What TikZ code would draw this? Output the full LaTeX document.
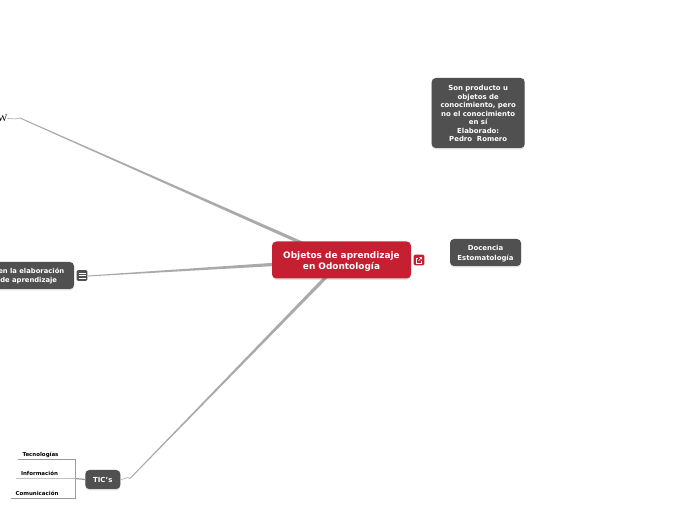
\documentclass[tikz,border=0pt]{standalone}
\usepackage{fontspec}
\usetikzlibrary{calc}
\setmainfont{DejaVu Sans}
\newfontfamily\serifw{Liberation Serif}
\newcommand{\taperline}[2]{\fill[taper] ($(#1)!1.25pt!90:(#2)$) -- ($(#2)!0.35pt!-90:(#1)$) -- ($(#2)!0.35pt!90:(#1)$) -- ($(#1)!1.25pt!-90:(#2)$) -- cycle;}
\begin{document}
\begin{tikzpicture}[x=0.75pt,y=-0.75pt,
  darkbox/.style={fill=boxgrey,rounded corners=3pt,inner sep=0pt,
     preaction={fill=black,opacity=0.13,transform canvas={yshift=-1pt}}},
  mainbox/.style={fill=mainred,rounded corners=3.2pt,inner sep=0pt,
     preaction={fill=black,opacity=0.10,transform canvas={yshift=-1pt}}},
  darktext/.style={text=white,font=\bfseries\fontsize{5.2}{6.4}\selectfont,align=center,inner sep=0pt},
  maintext/.style={text=white,font=\bfseries\fontsize{6.7}{8.3}\selectfont,align=center,inner sep=0pt},
  iconbox/.style={rounded corners=1pt,inner sep=0pt,minimum size=8pt},
  taper/.style={fill=linegrey,draw=none},
  thinline/.style={draw=linegrey,line width=0.5pt},
  clipped/.style={anchor=west,text=white,font=\bfseries\fontsize{5.1}{6.4}\selectfont,inner sep=0pt},
  leaf/.style={font=\bfseries\fontsize{4.1}{5}\selectfont,text=black,inner sep=0pt},
  leafline/.style={draw=leafgrey,line width=0.5pt}]
\definecolor{boxgrey}{HTML}{505050}
\definecolor{mainred}{HTML}{C52032}
\definecolor{linegrey}{HTML}{ABA9A9}
\definecolor{leafgrey}{HTML}{9A9A9A}
\useasboundingbox (0,0) rectangle (697,520);
\clip (0,0) rectangle (697,520);
\fill[white] (0,0) rectangle (697,520);
% anchor coordinates of connectors
\coordinate (hubA) at (304,244);
\coordinate (hubB) at (276,264.3);
\coordinate (hubC) at (328,275);
\coordinate (farA) at (20,118);
\coordinate (farB) at (88,276);
\coordinate (farC) at (130,478.5);
% tapered connectors
\taperline{hubA}{farA}
\taperline{hubB}{farB}
\taperline{hubC}{farC}
% nodes
\node[mainbox,minimum width=104.25pt,minimum height=27.75pt,label={[maintext,yshift=-1pt]center:{Objetos de aprendizaje\\en Odontología}}] (main) at (341.5,260) {};
\node[iconbox,fill=mainred] (link) at (419,260) {};
\draw[white,line width=0.45pt] (417,258.5) -- (416.5,258.5) -- (416.5,263) -- (421,263) -- (421,261);
\draw[white,line width=0.45pt] (418.5,261) -- (421.5,257.5) (419.5,257.5) -- (421.5,257.5) -- (421.5,259.5);
\node[darkbox,minimum width=69.75pt,minimum height=52.5pt,label={[darktext,yshift=-0.4pt]center:{Son producto u\\objetos de\\conocimiento, pero\\no el conocimiento\\en sí\\Elaborado:\\Pedro\ \ Romero}}] (prod) at (478.2,113) {};
\node[darkbox,minimum width=53.25pt,minimum height=20.25pt,label={[darktext,font=\bfseries\fontsize{5.2}{7.2}\selectfont,yshift=-0.7pt]center:{Docencia\\Estomatología}}] (doc) at (485.5,252.5) {};
\node[darkbox,minimum width=63pt,minimum height=20.25pt] (elab) at (32,275.5) {};
\node[clipped] (elabA) at (-2,271) {en la elaboración};
\node[clipped] (elabB) at (0,280.5) {de aprendizaje};
\node[iconbox,fill=boxgrey] (menu) at (82,275.5) {};
\foreach \yy in {273,275.5,278}{\draw[white,line width=0.5pt] (78.5,\yy) -- (85.5,\yy);}
\node[darkbox,minimum width=26.25pt,minimum height=14.25pt,label={[darktext]center:{TIC's}}] (tics) at (102.8,479.5) {};
\node[anchor=east,inner sep=0pt,font=\serifw\fontsize{7.5}{9}\selectfont] (www) at (7.5,118.5) {W};
% connector ends
\draw[thinline] (farA) to[out=200,in=0] (www.east);
\draw[thinline] (farB) -- (menu.east);
\draw[thinline] (farC) to[out=135,in=0] (tics.east);
% leaves
\node[leaf] (t1) at (40.5,454.5) {Tecnologías};
\node[leaf] (t2) at (39.5,473.5) {Información};
\node[leaf] (t3) at (37,493.3) {Comunicación};
\coordinate (busT) at (75.5,459.5);
\coordinate (busM) at (75.5,478.5);
\coordinate (busB) at (75.5,498.5);
\draw[leafline] (18,459.5) -- (busT) -- (busB) -- (11,498.5);
\draw[leafline,draw=leafgrey!60] (16,478.5) -- (busM);
\draw[leafgrey,line width=0.9pt] (busM) -- (tics.west);
\end{tikzpicture}
\end{document}
